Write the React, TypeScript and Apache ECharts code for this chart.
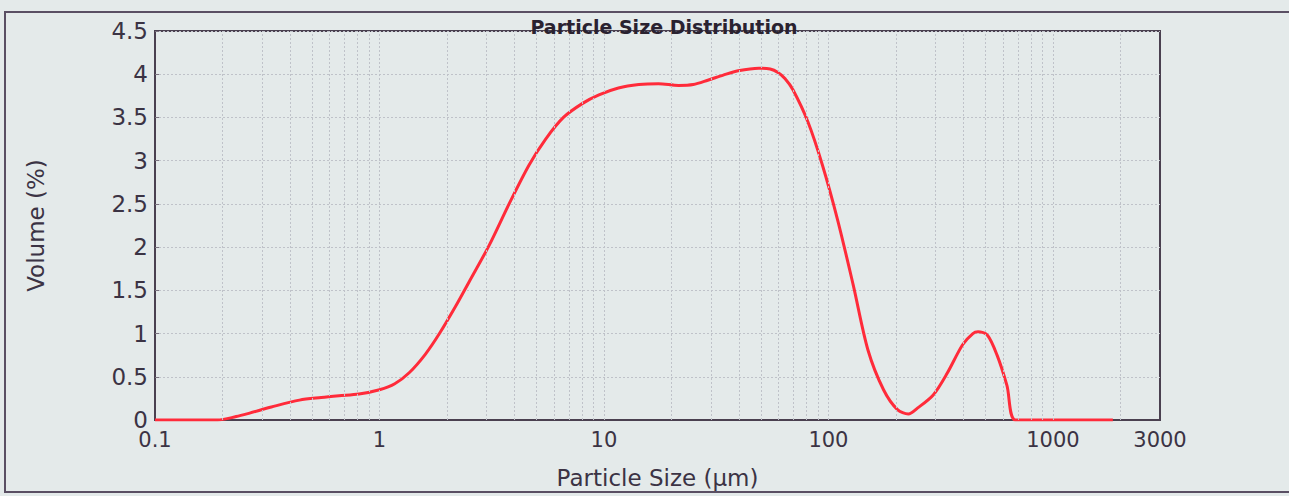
import React, { useEffect, useRef } from "react";
import * as echarts from "echarts";

const sizes = [
  0.1, 0.15, 0.19, 0.23, 0.264, 0.33, 0.44, 0.55, 0.66, 0.81, 1.0, 1.17, 1.36, 1.6, 1.85,
  2.2, 2.51, 3.08, 3.78, 4.64, 5.5, 6.6, 8.0, 9.5, 11.6, 14.3, 17.5, 21.5, 25, 29, 34,
  39.6, 49, 55, 59.6, 64, 69.5, 81, 94, 110, 129, 150, 176, 203, 227, 250, 293, 338,
  396, 440, 464, 511, 564, 624, 682, 1000, 1850,
];
const volumes = [
  0, 0, 0, 0.04, 0.08, 0.15, 0.23, 0.26, 0.28, 0.3, 0.35, 0.42, 0.55, 0.76, 1.0,
  1.33, 1.6, 2.02, 2.5, 2.95, 3.25, 3.5, 3.66, 3.76, 3.84, 3.88, 3.89, 3.87, 3.88, 3.93, 3.99,
  4.04, 4.07, 4.06, 4.02, 3.95, 3.82, 3.45, 2.95, 2.31, 1.56, 0.81, 0.35, 0.12, 0.07, 0.14, 0.29, 0.54,
  0.87, 1.0, 1.02, 0.98, 0.75, 0.4, 0, 0, 0,
];
const xTickLabels = [0.1, 1, 10, 100, 1000, 3000];
const gridXValues = [
  0.2, 0.3, 0.4, 0.5, 0.6, 0.7, 0.8, 0.9, 1,
  2, 3, 4, 5, 6, 7, 8, 9, 10,
  20, 30, 40, 50, 60, 70, 80, 90, 100,
  200, 300, 400, 500, 600, 700, 800, 900, 1000, 2000,
];

const TEXT = "#3b3344";
const FONT = "DejaVu Sans";
const GRIDLINE = "#bfc2c9";

export default function App() {
  const ref = useRef<HTMLDivElement>(null);
  useEffect(() => {
    document.body.style.margin = "0";
    const chart = echarts.init(ref.current!, null, { renderer: "svg" });
    chart.setOption({
      animation: false,
      backgroundColor: "#e4eaea",
      textStyle: { fontFamily: FONT, color: TEXT },
      title: {
        text: "Particle Size Distribution",
        left: 659,
        textAlign: "center",
        top: 12,
        textStyle: { fontFamily: FONT, fontSize: 19, fontWeight: "bold", color: "#2a2230" },
      },
      graphic: [
        {
          type: "rect",
          shape: { x: 5, y: 12, width: 1320, height: 480 },
          style: { fill: "none", stroke: "#5a4f63", lineWidth: 2 },
          silent: true,
        },
      ],
      grid: {
        left: 155,
        right: 129,
        top: 31,
        bottom: 76,
        show: true,
        borderColor: "#4a4050",
        borderWidth: 2,
        backgroundColor: "transparent",
      },
      xAxis: {
        type: "log",
        logBase: 10,
        min: 0.1,
        max: 3000,
        name: "Particle Size (µm)",
        nameLocation: "middle",
        nameGap: 46,
        nameTextStyle: { fontFamily: FONT, fontSize: 23, color: TEXT },
        axisLine: { show: true, lineStyle: { color: "#4a4050", width: 2 } },
        axisTick: { show: false },
        splitLine: { show: false },
        axisLabel: {
          customValues: xTickLabels,
          fontFamily: FONT,
          fontSize: 21,
          color: TEXT,
          margin: 9,
          formatter: (v: number) => String(+Number(v).toPrecision(6)),
        },
      },
      yAxis: {
        type: "value",
        min: 0,
        max: 4.5,
        interval: 0.5,
        name: "Volume (%)",
        nameLocation: "middle",
        nameRotate: 90,
        nameGap: 108,
        nameTextStyle: { fontFamily: FONT, fontSize: 23, color: TEXT },
        axisLine: { show: true, lineStyle: { color: "#4a4050", width: 2 } },
        axisTick: { show: true, inside: true, length: 4, lineStyle: { color: "#7a7380" } },
        axisLabel: { fontFamily: FONT, fontSize: 23, color: TEXT, margin: 7 },
        splitLine: { show: true, lineStyle: { color: GRIDLINE, width: 1, type: [2, 2] } },
      },
      series: [
        {
          type: "line",
          data: [],
          z: 1,
          silent: true,
          markLine: {
            silent: true,
            symbol: ["none", "none"],
            label: { show: false },
            lineStyle: { color: GRIDLINE, width: 1, type: [2, 2] },
            data: gridXValues.map((v) => ({ xAxis: v })),
          },
        },
        {
          type: "line",
          z: 3,
          data: sizes.map((s, i) => [s, volumes[i]]),
          showSymbol: false,
          smooth: 0.3,
          lineStyle: { color: "#ff2b3a", width: 3 },
        },
      ],
    });
    return () => chart.dispose();
  }, []);
  return <div ref={ref} style={{ width: 1289, height: 496 }} />;
}
